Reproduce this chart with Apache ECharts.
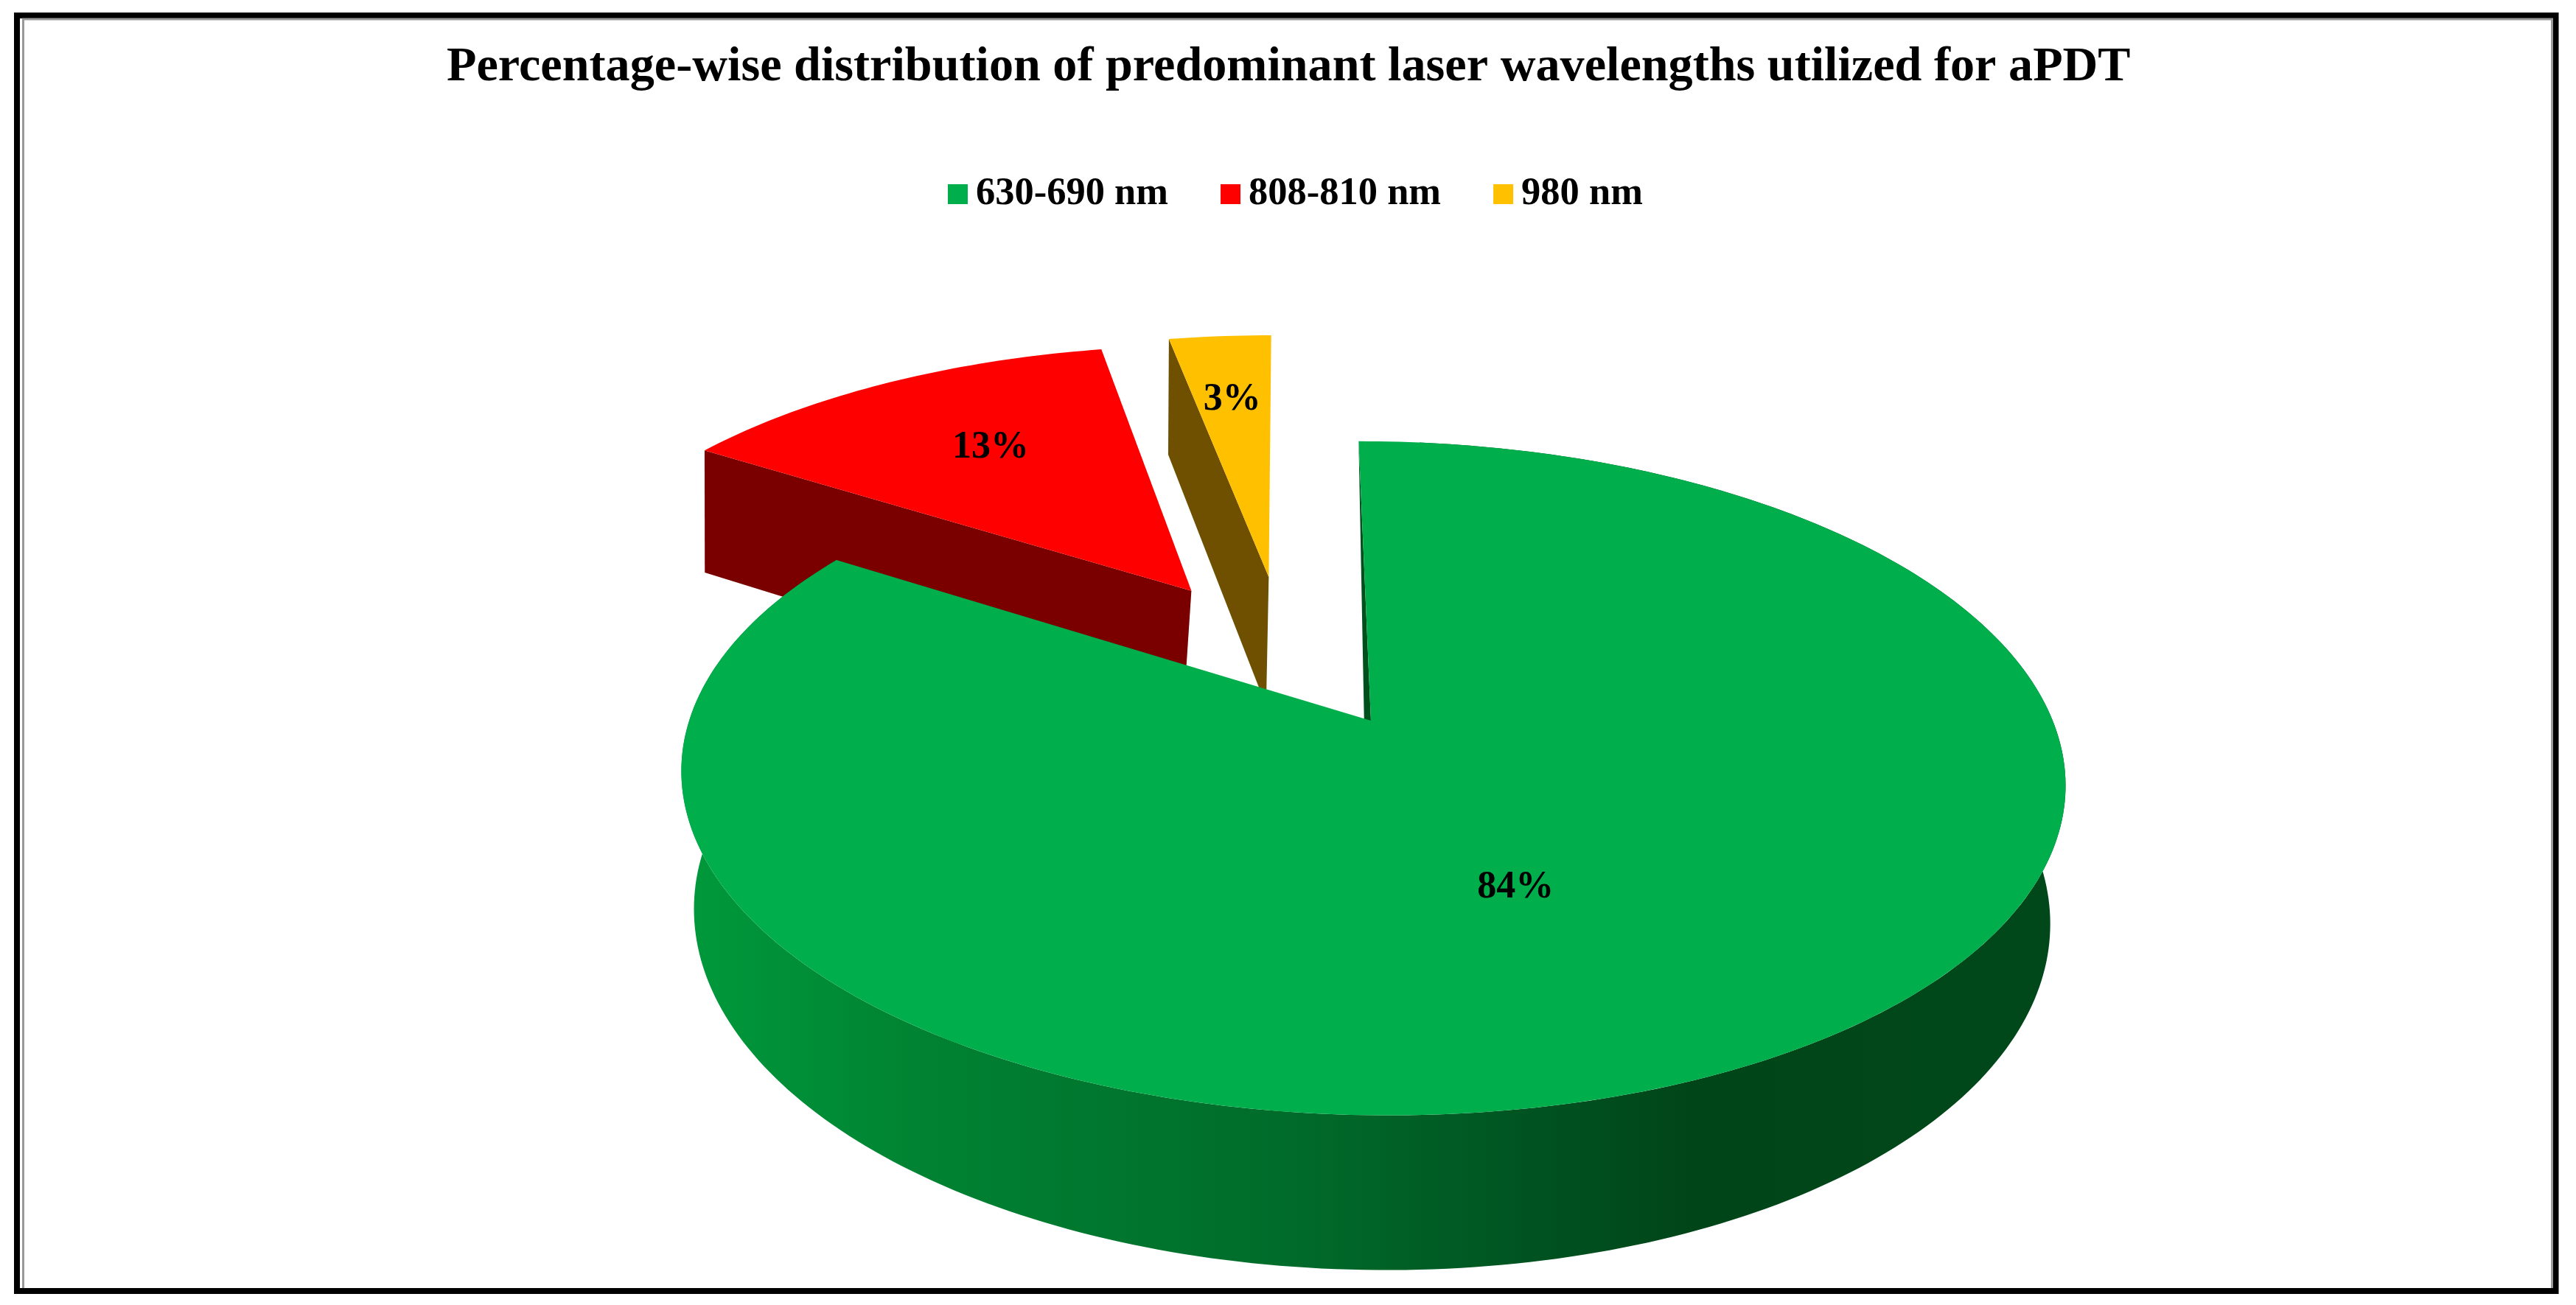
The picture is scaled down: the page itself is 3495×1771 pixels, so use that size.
<!DOCTYPE html>
<html><head><meta charset="utf-8">
<style>html,body{margin:0;padding:0;background:#fff}#c{width:3495px;height:1771px}</style>
<script src="https://cdn.jsdelivr.net/npm/echarts@6/dist/echarts.min.js"></script>
</head><body><div id="c"></div>
<script>
var titleText = 'Percentage-wise distribution of predominant laser wavelengths utilized for aPDT';
var categories = ['630-690 nm', '808-810 nm', '980 nm'];
var values = [84, 13, 3];
var topColors = ['#00AF4B', '#FF0000', '#FFC000'];
var wallColors = ['#00501E', '#7A0000', '#6E5000'];
var explodeX = [0, -0.2735, -0.152];
var explodeY = [0, -0.426, -0.475];
var wallSkew = [14, 26, 15];
var labelRadius = [0.505, 0.653, 0.706];
var labelAngleShift = [7.3, 1.1, -0.1];

// projection of the pie's disc onto the page (perspective)
var view = {ax: 1860, ay: 978, A: 925, B: 444, C: 189, k: 0.171, m: 0.02, shear: 0.044, g: 10};
function project(X, Y, Z, skew) {
  var w = 1 - view.k * Y + view.m * Z;
  var py = (view.B * Y + view.C * Z) / w;
  var px = (view.A * X - (skew === undefined ? view.g : skew) * Z) / w;
  return [view.ax + px + view.shear * py, view.ay + py];
}
function disc(i, deg, r, Z, skew) {
  var t = deg * Math.PI / 180;
  return project(explodeX[i] + r * Math.sin(t), explodeY[i] - r * Math.cos(t), Z, skew);
}
function arc(i, a, b, Z) {
  var n = Math.max(2, Math.ceil(Math.abs(b - a))), pts = [];
  for (var j = 0; j <= n; j++) pts.push(disc(i, a + (b - a) * j / n, 1, Z));
  return pts;
}
var total = values.reduce(function (s, v) { return s + v; }, 0);
function startDeg(i) {
  var s = 0;
  for (var j = 0; j < i; j++) s += values[j];
  return s / total * 360;
}
function poly(points, fill) {
  return {type: 'polygon', shape: {points: points}, style: {fill: fill}};
}
var rimFill = new echarts.graphic.LinearGradient(930, 0, 2800, 0, [
  {offset: 0, color: '#00993B'},
  {offset: 0.175, color: '#008232'},
  {offset: 0.45, color: '#006A2A'},
  {offset: 0.62, color: '#005220'},
  {offset: 0.73, color: '#004518'},
  {offset: 1, color: '#00481A'}
], true);

function renderSlice(i) {
  return function (params, api) {
    var v = api.value(0);
    var a = startDeg(i), b = a + v / total * 360;
    var apexTop = disc(i, 0, 0, 0), kids = [];
    var s = wallSkew[i];
    if (i === 0) {
      // the rim starts a little past the cut, where it is hidden under the top face
      kids.push(poly(arc(i, a + 6, b, 0).concat(arc(i, b, a + 6, 1)), rimFill));
      kids.push(poly([disc(i, a, 1, 0), apexTop, disc(i, 0, 0, 1, s)], wallColors[i]));
    } else {
      kids.push(poly([disc(i, a, 1, 0), apexTop, disc(i, 0, 0, 1, s), disc(i, a, 1, 1, s)], wallColors[i]));
    }
    kids.push(poly([apexTop].concat(arc(i, a, b, 0)), topColors[i]));
    var lp = disc(i, (a + b) / 2 + labelAngleShift[i], labelRadius[i], 0);
    kids.push({type: 'text', z2: 10, style: {
      x: lp[0], y: lp[1], text: v + '%', align: 'center', verticalAlign: 'middle',
      fill: '#000', font: 'bold 52px "Liberation Serif"'
    }});
    return {type: 'group', children: kids};
  };
}
// drawn back to front
var drawOrder = [2, 1, 0];
var chart = echarts.init(document.getElementById('c'), null, {renderer: 'canvas'});
chart.setOption({
  animation: false,
  backgroundColor: '#fff',
  title: {
    text: titleText, left: 601, top: 54,
    textStyle: {fontFamily: 'Liberation Serif', fontWeight: 'bold', fontSize: 66.2, color: '#000'}
  },
  legend: {
    data: categories, left: 1281, top: 232, icon: 'rect',
    itemWidth: 27, itemHeight: 27, itemGap: 71,
    textStyle: {fontFamily: 'Liberation Serif', fontWeight: 'bold', fontSize: 52.5, color: '#000', padding: [0, 0, 0, 6]}
  },
  graphic: [
    {type: 'rect', silent: true, z: -1, shape: {x: 23, y: 21, width: 3444.5, height: 1731},
      style: {fill: 'none', stroke: '#000', lineWidth: 8}},
    {type: 'polyline', silent: true, z: -1, shape: {points: [[31.5, 1748], [31.5, 26], [3462.5, 26], [3462.5, 1748]]},
      style: {fill: 'none', stroke: '#999', lineWidth: 3}}
  ],
  series: drawOrder.map(function (i) {
    return {
      type: 'custom', name: categories[i], coordinateSystem: 'none',
      itemStyle: {color: topColors[i]},
      renderItem: renderSlice(i), data: [[values[i]]]
    };
  })
});
</script></body></html>
